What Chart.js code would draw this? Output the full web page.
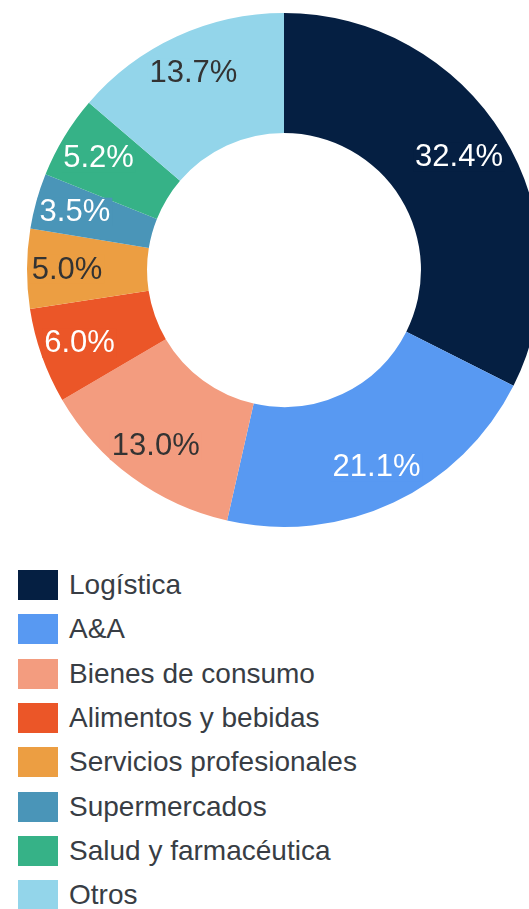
<!DOCTYPE html>
<html>
<head>
<meta charset="utf-8">
<script src="https://cdn.jsdelivr.net/npm/chart.js@4"></script>
<style>
  html, body { margin: 0; padding: 0; background: #fff; overflow: hidden; }
  #wrap { width: 568px; height: 540px; }
  #legend { margin: 23px 0 0 18px; padding: 0; list-style: none;
            font-family: "Liberation Sans", Arial, sans-serif; font-size: 28px; color: #383d44; }
  #legend li { display: flex; align-items: center; height: 44.3px; }
  #legend .box { width: 40px; height: 30px; margin-right: 11px; flex: none; }
</style>
</head>
<body>
<div id="wrap"><canvas id="donut" width="568" height="540"></canvas></div>
<ul id="legend"></ul>
<script>
const categories = ["Logística", "A&A", "Bienes de consumo", "Alimentos y bebidas",
  "Servicios profesionales", "Supermercados", "Salud y farmacéutica", "Otros"];
const shares = [32.4, 21.1, 13.0, 6.0, 5.0, 3.5, 5.2, 13.7];
const colors = ["#051f42", "#5899f2", "#f39c7f", "#eb5628", "#ec9e42", "#4a95b8", "#36b287", "#93d5ea"];
const labelColors = ["#fff", "#fff", "#333", "#fff", "#333", "#fff", "#fff", "#333"];

/* ---------- HTML LEGEND ---------- */
const legendEl = document.getElementById("legend");
categories.forEach((name, i) => {
  const li = document.createElement("li");
  const box = document.createElement("span");
  box.className = "box";
  box.style.background = colors[i];
  li.appendChild(box);
  li.appendChild(document.createTextNode(name));
  legendEl.appendChild(li);
});

/* ---------- SLICE LABELS ---------- */
const sliceLabels = {
  id: "sliceLabels",
  afterDatasetsDraw(chart) {
    const { ctx } = chart;
    const meta = chart.getDatasetMeta(0);
    const maxRight = 503; // keep labels inside the visible window
    ctx.save();
    ctx.font = "31px 'Liberation Sans', Arial, sans-serif";
    ctx.textAlign = "center";
    ctx.textBaseline = "middle";
    meta.data.forEach((arc, i) => {
      const { x, y, startAngle, endAngle, innerRadius, outerRadius } = arc.getProps(
        ["x", "y", "startAngle", "endAngle", "innerRadius", "outerRadius"], true);
      const mid = (startAngle + endAngle) / 2;
      const r = innerRadius + (outerRadius - innerRadius) * 0.667;
      let px = x + Math.cos(mid) * r;
      const py = y + Math.sin(mid) * r;
      const txt = shares[i].toFixed(1) + "%";
      const w = ctx.measureText(txt).width;
      if (px + w / 2 > maxRight) px = maxRight - w / 2;
      ctx.fillStyle = colors[i];
      ctx.fillRect(px - w / 2 - 2, py - 14, w + 4, 29);
      ctx.fillStyle = labelColors[i];
      ctx.fillText(txt, px, py + 1);
    });
    ctx.restore();
  }
};

new Chart(document.getElementById("donut"), {
  type: "doughnut",
  data: {
    labels: categories,
    datasets: [{
      data: shares,
      backgroundColor: colors,
      borderWidth: 0
    }]
  },
  options: {
    responsive: false,
    animation: false,
    cutout: "53.3%",
    layout: { padding: 13 },
    plugins: {
      legend: { display: false },
      tooltip: { enabled: false }
    }
  },
  plugins: [sliceLabels]
});
</script>
</body>
</html>
